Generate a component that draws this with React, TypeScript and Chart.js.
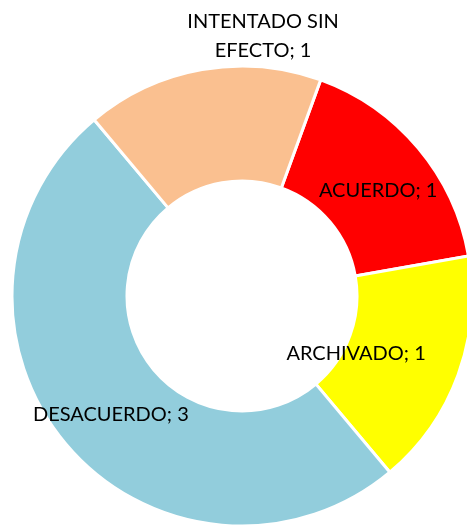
import React, { useEffect, useRef } from "react";
import { Chart, registerables } from "chart.js";

Chart.register(...registerables);

const categories = ["ACUERDO", "ARCHIVADO", "DESACUERDO", "INTENTADO SIN EFECTO"];
const values = [1, 1, 3, 1];
const colors = ["#FF0000", "#FFFF00", "#92CDDC", "#FAC090"];
// label lines as displayed
const labelLines = [["ACUERDO; 1"], ["ARCHIVADO; 1"], ["DESACUERDO; 3"], ["INTENTADO SIN", "EFECTO; 1"]];
// offsets of label centres from the slice mid-point (pixels)
const labelDx = [4, -48, 1, 51];
const labelDy = [5, -2, 7, -91];

const FONT_SIZE = 20;
const FONT = `${FONT_SIZE}px Lato`;
const LINE_H = 29;

const labelPlugin = {
  id: "sliceLabels",
  afterDatasetsDraw(chart: any) {
    const ctx = chart.ctx;
    const meta = chart.getDatasetMeta(0);
    ctx.save();
    ctx.font = FONT;
    ctx.fillStyle = "#000000";
    ctx.textAlign = "center";
    ctx.textBaseline = "alphabetic";
    const capH = FONT_SIZE * 0.72;
    meta.data.forEach((arc: any, i: number) => {
      const p = arc.tooltipPosition();
      const lines = labelLines[i];
      const cx = p.x + labelDx[i];
      const cy = p.y + labelDy[i];
      const startY = cy - ((lines.length - 1) * LINE_H) / 2;
      lines.forEach((t, j) => {
        ctx.fillText(t, cx, startY + j * LINE_H + capH / 2);
      });
    });
    ctx.restore();
  },
};

export default function App() {
  const ref = useRef<HTMLCanvasElement>(null);
  useEffect(() => {
    if (!ref.current) return;
    const chart = new Chart(ref.current, {
      type: "doughnut",
      data: {
        labels: categories,
        datasets: [
          {
            data: values,
            backgroundColor: colors,
            borderColor: "#FFFFFF",
            borderWidth: 3,
            clip: false as any,
          },
        ],
      },
      options: {
        responsive: false,
        animation: false,
        rotation: 20,
        radius: 230,
        cutout: "50%",
        layout: { padding: { left: 17, right: 0, top: 66, bottom: 0 } },
        plugins: {
          legend: { display: false },
          tooltip: { enabled: false },
        },
        events: [],
      },
      plugins: [labelPlugin],
    });
    return () => chart.destroy();
  }, []);
  return (
    <div style={{ position: "fixed", left: 0, top: 0, width: 467, height: 526, overflow: "hidden", background: "#fff" }}>
      <canvas ref={ref} width={467} height={526} style={{ display: "block", width: 467, height: 526 }} />
    </div>
  );
}
